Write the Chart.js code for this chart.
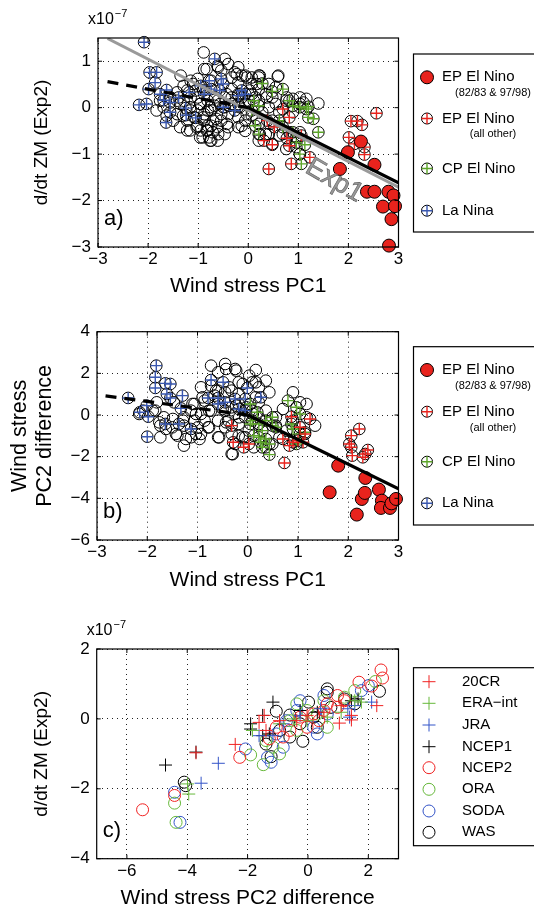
<!DOCTYPE html>
<html>
<head>
<meta charset="utf-8">
<script src="https://cdn.jsdelivr.net/npm/chart.js@4.4.1/dist/chart.umd.min.js"></script>
<style>
body { margin: 0; background: #fff; width: 534px; height: 912px; overflow: hidden; position: relative; }
canvas { position: absolute; left: 0; }
</style>
</head>
<body>
<canvas id="chart-a" width="534" height="300" style="top:0px"></canvas>
<canvas id="chart-b" width="534" height="310" style="top:300px"></canvas>
<canvas id="chart-c" width="534" height="302" style="top:610px"></canvas>
<script>
// ---- panel a: d/dt ZM vs wind stress PC1 ----
var a_ep_strong = [[1.83,-1.32],[1.99,-0.96],[2.25,-0.73],[2.52,-1.23],[2.37,-1.81],[2.52,-1.81],[2.80,-1.81],[2.90,-1.89],[2.69,-2.13],[2.93,-2.12],[2.86,-2.40],[2.81,-2.97]];
var a_ep_other = [[2.56,-0.12],[2.05,-0.29],[2.18,-0.29],[2.27,-0.37],[2.01,-0.64],[2.32,-0.85],[2.32,-1.01],[2.12,-0.78],[0.69,-0.03],[0.38,-0.28],[0.52,-0.42],[0.82,-0.21],[0.31,-0.71],[0.48,-0.80],[0.82,-0.82],[0.86,-1.21],[0.41,-1.32],[1.06,-0.60],[1.23,-1.07],[0.77,-0.66]];
var a_cp = [[0.28,0.52],[0.48,0.35],[0.69,0.40],[0.11,0.15],[0.21,0.04],[0.07,-0.06],[0.62,-0.28],[0.14,-0.39],[0.21,-0.57],[0.82,0.15],[0.89,0.04],[1.03,0.01],[1.16,-0.03],[1.20,-0.21],[1.30,-0.24],[1.40,-0.53],[0.89,-0.53],[0.96,-0.75],[1.13,-0.80],[1.03,-1.00],[1.06,-1.21],[0.69,-0.42],[1.20,0.02]];
var a_lanina = [[-2.08,1.41],[-1.97,0.76],[-1.83,0.76],[-1.86,0.54],[-1.99,0.40],[-1.76,0.29],[-1.63,0.38],[-1.69,0.16],[-1.56,0.11],[-1.56,-0.10],[-1.64,-0.32],[-2.18,0.06],[-2.03,0.08],[-1.25,-0.01],[-1.24,-0.16],[-1.05,-0.22],[-1.39,0.22],[-0.67,1.05],[-0.78,0.58],[-0.54,0.62],[-0.50,0.51],[-0.57,0.37],[-0.74,0.40],[-0.88,0.29],[-0.95,0.47],[-0.50,0.01],[-0.27,-0.06],[-0.13,0.37],[-0.06,0.29],[-0.20,0.26],[-1.18,0.33]];
var a_other = [[-0.89,1.19],[-0.47,1.05],[-0.61,0.90],[-0.40,0.94],[-0.27,0.76],[-0.06,0.69],[0.21,0.69],[0.59,0.67],[-1.35,0.69],[-1.15,0.58],[-0.88,0.83],[-1.01,0.62],[-1.29,0.47],[-1.05,0.37],[-0.81,0.15],[-0.61,0.15],[-0.47,0.22],[-0.33,0.40],[-0.20,0.54],[0.07,0.51],[0.07,0.29],[0.21,0.40],[0.35,0.29],[0.48,0.22],[0.89,0.19],[1.03,0.22],[1.16,0.19],[1.40,0.09],[-1.15,-0.06],[-1.22,-0.28],[-1.22,-0.49],[-1.01,-0.39],[-0.88,-0.28],[-0.81,-0.49],[-0.91,-0.64],[-0.78,-0.64],[-0.71,-0.53],[-0.74,-0.39],[-0.54,-0.28],[-0.40,-0.14],[-0.20,-0.21],[-0.06,-0.28],[0.07,-0.17],[0.28,-0.10],[0.21,-0.35],[0.48,-0.28],[0.41,-0.57],[0.48,-0.78],[0.69,-0.57],[0.82,-0.53],[1.03,-0.53],[0.96,-0.85],[1.03,-1.00],[-0.61,-0.71],[-0.47,-0.57],[-1.42,0.15],[-1.56,0.22],[-1.69,0.01],[-1.76,0.15],[-1.83,-0.06],[-1.29,0.15],[-0.74,-0.06],[-0.20,0.08],[-0.33,0.08],[-0.06,0.08],[-0.54,-0.14],[-1.01,-0.06],[-0.95,0.08],[-0.81,-0.06],[-0.67,0.04],[-0.47,0.01],[-0.33,0.22],[-0.13,0.22],[0.01,0.15],[0.14,0.22],[0.21,0.15],[0.41,0.01],[0.55,0.08],[0.62,-0.10],[-0.20,-0.42],[-0.06,-0.50],[-0.40,-0.42],[-0.88,0.44],[-1.01,0.22],[-1.15,0.22],[-0.74,0.58],[-0.33,0.65],[0.07,0.65],[-0.13,0.69],[-0.54,0.80],[-0.20,0.87],[0.21,0.65],[-1.22,0.37],[-1.42,0.33],[-0.88,-0.14],[-0.64,-0.24],[-1.08,-0.21],[-0.61,-0.42],[-0.95,-0.49],[-0.74,-0.71],[-0.81,-0.39],[-1.42,-0.14],[-1.63,-0.17],[1.03,0.08],[0.89,-0.10],[0.76,0.15],[0.55,0.44],[0.41,0.51],[0.35,-0.57],[0.21,-0.71],[0.76,-0.89],[0.96,-0.64],[0.62,-0.60],
    [-0.83,0.83],[-0.60,0.87],[-0.23,0.72],[-0.03,0.65],[0.23,0.69],[0.60,0.69],[-1.10,0.51],[-0.90,0.37],[-0.66,0.22],[-0.43,0.29],[-0.20,0.29],[0.03,0.37],[0.17,0.51],[0.37,0.22],[0.77,0.22],[1.10,0.11],[-1.36,0.08],[-1.16,0.01],[-0.96,0.08],[-0.76,0.01],[-0.56,0.08],[-0.37,0.04],[-0.17,0.01],[-0.03,-0.14],[-0.90,-0.21],[-0.70,-0.28],[-1.03,-0.42],[-0.83,-0.49],[-0.96,-0.64],[-0.76,-0.71],[-0.60,-0.57],[-0.43,-0.35],[-0.13,-0.39],[0.17,-0.24],[0.43,-0.35],[0.23,-0.57],[-1.30,-0.17],[-1.50,-0.28],[-1.36,-0.42],[-1.16,-0.49]];
var a_exp1_line = [[-2.81,1.49],[3,-1.71]];
var a_fit_dashed = [[-2.81,0.56],[0,0]];
var a_fit_solid = [[0,0],[3,-1.62]];
var a_x_ticks = [-3,-2,-1,0,1,2,3];
var a_y_ticks = [-3,-2,-1,0,1];

// ---- panel b: PC2 difference vs PC1 ----
var b_ep_strong = [[1.80,-2.43],[2.34,-3.02],[1.63,-3.71],[2.27,-4.03],[2.33,-3.74],[2.17,-4.78],[2.61,-3.58],[2.67,-4.11],[2.65,-4.46],[2.83,-4.46],[2.86,-4.24],[2.95,-4.03]];
var b_ep_other = [[2.22,-0.67],[2.06,-0.99],[2.02,-1.39],[2.06,-1.55],[2.08,-1.95],[2.29,-2.03],[2.34,-1.87],[2.39,-1.68],[0.73,-2.30],[0.87,-0.08],[1.24,-0.19],[-0.32,-0.51],[-0.29,-1.31],[-0.08,-1.55],[0.02,-1.39],[0.70,-1.15],[0.83,-1.47],[1.00,-1.23],[1.04,-0.59],[1.14,-0.91],[0.90,-1.31],[1.10,-1.31]];
var b_cp = [[0.05,0.53],[0.19,0.13],[0.09,-0.27],[0.22,-0.43],[0.36,-0.27],[0.49,-0.11],[0.29,-0.75],[0.22,-1.07],[0.36,-1.15],[0.43,-1.39],[0.29,-1.55],[0.43,-1.90],[0.49,-0.51],[0.12,-0.99],[0.80,0.69],[0.97,0.37],[1.04,0.05],[0.90,-0.67],[1.04,-0.91],[1.14,-0.83],[0.97,-1.39],[0.87,-0.43],[0.56,-0.59],[0.26,-1.31],[0.05,-0.43]];
var b_lanina = [[-2.38,0.82],[-1.82,2.37],[-1.84,1.81],[-1.84,1.30],[-1.64,1.52],[-1.54,1.49],[-1.61,1.01],[-1.54,0.82],[-1.30,0.93],[-2.01,0.45],[-2.15,0.13],[-1.98,-0.08],[-2.00,-1.04],[-1.64,-0.43],[-1.33,0.32],[-1.37,-0.43],[-1.13,-0.67],[-0.73,1.68],[-0.49,1.57],[-0.79,0.82],[-0.59,0.82],[-0.59,0.53],[-0.45,0.61],[-0.25,0.77],[-0.05,0.77],[-0.18,0.29],[-0.05,0.21],[0.26,0.85],[-0.01,1.30]];
var b_other = [[-0.73,2.37],[-0.45,2.45],[-0.25,2.21],[-0.59,2.05],[0.16,2.16],[0.36,1.65],[0.09,1.57],[0.22,1.33],[-0.18,1.57],[-0.32,1.17],[0.43,1.09],[0.90,1.09],[1.17,0.53],[1.34,-0.51],[1.17,-0.11],[1.04,0.61],[0.70,0.29],[0.56,-0.11],[0.36,0.21],[0.16,0.85],[-0.18,1.01],[-0.45,1.09],[-0.66,0.93],[-0.86,0.69],[-1.06,0.53],[-1.13,0.21],[-0.93,0.05],[-0.73,0.21],[-0.45,0.21],[-0.32,0.37],[-0.25,0.05],[-0.39,-0.27],[-0.18,-0.43],[-0.32,-0.91],[-0.18,-1.00],[-0.32,-1.87],[-0.59,-1.07],[-0.79,-0.59],[-0.93,-0.91],[-0.99,-0.59],[-1.27,-1.47],[-1.40,-0.99],[-1.50,-0.59],[-1.27,-0.51],[-1.74,-0.51],[-1.74,-1.07],[-1.84,0.21],[-1.81,0.61],[-1.47,0.61],[-1.06,-0.27],[-1.27,-0.11],[0.02,-0.75],[-0.05,-1.07],[0.12,-1.55],[-0.25,-1.39],[0.63,-1.07],[0.56,-0.51],[0.77,-0.75],[0.90,-0.27],[0.36,-1.55],[0.49,-1.39],[0.22,-0.11],[0.09,0.21],[-0.05,-0.11],[-0.18,0.53],[0.22,0.61],[-0.86,-0.27],[-0.59,-0.27],[-1.13,-1.07],[-1.67,-0.11],[-2.08,0.21],[-0.45,-0.59],[-0.59,1.17],[-0.93,1.33],[-0.73,1.41],
    [-0.43,2.21],[-0.23,2.13],[0.03,1.89],[0.16,1.57],[-0.10,1.49],[-0.37,1.33],[-0.63,1.17],[-0.90,0.85],[-1.10,0.53],[-1.03,0.05],[-0.77,0.21],[-0.50,0.29],[-0.23,0.45],[-0.03,0.37],[0.10,0.05],[-0.17,-0.11],[-0.43,-0.35],[-0.77,-0.59],[-1.03,-0.91],[-1.23,-1.15],[-1.43,-0.91],[-1.63,-0.67],[-1.76,-0.35],[-1.49,-0.19],[-1.29,-0.27],[-0.57,-1.07],[-0.30,-1.88],[-0.10,-1.07],[-0.96,-1.15],[-1.89,0.21],[-2.16,0.05]];
var b_fit_dashed = [[-2.83,0.92],[0,0]];
var b_fit_solid = [[0,0],[3,-3.54]];
var b_x_ticks = [-3,-2,-1,0,1,2,3];
var b_y_ticks = [-6,-4,-2,0,2,4];

// ---- panel c: d/dt ZM vs PC2 difference, by product ----
var c_names = ['20CR','ERA\u2212int','JRA','NCEP1','NCEP2','ORA','SODA','WAS'];
var c_20cr = [[-2.41,-0.73],[-3.71,-0.97],[2.28,0.38],[1.04,-0.12],[1.44,0.10],[1.44,-0.03],[-1.62,-0.10],[-1.45,0.10],[-0.94,-0.05],[-0.03,0.10],[0.53,0.19],[1.10,0.38],[-1.39,-0.33],[-0.37,-0.05]];
var c_era = [[-3.99,-1.86],[-3.95,-2.15],[1.55,0.52],[1.77,0.48],[0.64,0.05],[1.10,0.19],[-0.03,-0.05],[-0.94,-0.14],[-0.49,0.00],[-1.84,-0.33]];
var c_jra = [[-2.97,-1.27],[-3.54,-1.84],[2.11,0.48],[1.32,0.29],[1.55,0.38],[1.38,0.05],[-1.16,-0.48],[-1.62,-0.48],[-0.82,-0.14],[-0.26,0.10],[0.42,0.29]];
var c_ncep1 = [[-4.72,-1.32],[-3.71,-0.95],[-1.90,-0.14],[-1.90,-0.29],[-1.50,0.10],[-1.16,0.48],[-1.28,-0.43],[-1.50,-0.48],[1.44,0.52],[1.66,0.57],[0.31,0.19],[-0.26,0.24]];
var c_ncep2 = [[-5.48,-2.60],[-4.42,-2.19],[-2.26,-1.10],[2.42,1.40],[2.47,1.17],[1.69,1.05],[2.11,0.94],[0.98,0.67],[0.64,0.43],[0.53,0.24],[0.36,-0.05],[-0.03,-0.24],[-0.60,-0.33],[-0.82,-0.52],[-1.28,-0.57],[-1.05,-0.24],[-0.26,0.05],[0.19,0.14],[0.98,0.33],[1.21,0.52]];
var c_ora = [[-4.42,-2.41],[-4.37,-2.96],[-1.90,-1.03],[-1.48,-1.31],[-0.94,-1.00],[2.23,1.07],[1.55,0.81],[1.21,0.62],[0.64,-0.24],[0.31,0.14],[-0.37,0.43],[-0.37,-0.33],[-0.60,-0.05],[-1.16,-0.81],[-1.39,-0.62],[0.53,0.52],[-0.03,0.24]];
var c_soda = [[-4.42,-2.10],[-4.24,-2.96],[-2.07,-0.86],[-1.22,-1.24],[-1.34,-1.10],[2.00,0.95],[1.77,0.81],[0.31,-0.43],[-0.26,0.52],[0.19,-0.24],[-0.71,-0.05],[-1.05,-0.43],[0.53,0.67],[-0.37,0.24],[0.64,0.14],[-0.82,-0.81]];
var c_was = [[-4.10,-1.81],[-4.05,-1.91],[-0.17,-0.64],[2.37,0.79],[0.64,0.86],[0.64,0.76],[0.02,0.48],[-1.05,0.22],[-0.60,0.11],[-1.39,-0.72],[-1.22,-1.08],[-0.60,-0.52],[0.31,-0.24],[0.19,0.05],[-0.26,-0.14],[1.21,0.57],[0.76,0.33],[-0.94,-0.33],[1.55,0.43]];
var c_x_ticks = [-6,-4,-2,0,2];
var c_y_ticks = [-4,-2,0,2];

var RED = '#e8231d', GREEN = '#5da52a', BLUE = '#3a58b0';
var C_RED = '#f02222', C_GREEN = '#66b83a', C_BLUE = '#3354c8', C_BLACK = '#000';
var FONT = "'Liberation Sans', Arial, Helvetica, sans-serif";

Chart.defaults.font.family = FONT;
Chart.defaults.color = '#000';

function fmt(v) {
    return String(v).replace('-', '\u2212');
}

function lineSet(data, color, width, dash) {
    return { data: data, showLine: true, pointRadius: 0, borderColor: color, borderWidth: width, borderDash: dash || [], fill: false };
}
function pointSet(data, style, radius, color, fillColor, width) {
    return { data: data, pointStyle: style, pointRadius: radius, borderColor: color, backgroundColor: fillColor || 'rgba(0,0,0,0)', borderWidth: width || 1, clip: false };
}
// circle with a coloured cross on top
function crossCircle(data, color) {
    return [pointSet(data, 'cross', 5.8, color, null, 1.4), pointSet(data, 'circle', 5.8, '#000', null, 1)];
}

function axes(o) {
    return {
        x: {
            type: 'linear', min: o.xMin, max: o.xMax,
            afterBuildTicks: function(s) { s.ticks = o.xTicks.map(function(v) { return { value: v }; }); },
            afterFit: function(s) { s.height = o.xHeight; },
            grid: { color: '#222', lineWidth: 1, drawTicks: false },
            border: { display: false, dash: [1, 4] },
            ticks: { font: { size: 17 }, padding: 2, autoSkip: false, maxRotation: 0, callback: function(v) { return fmt(v); } },
            title: { display: true, text: o.xTitle, font: { size: 21 }, padding: { top: 0, bottom: o.xTitlePad } }
        },
        y: {
            type: 'linear', min: o.yMin, max: o.yMax,
            afterBuildTicks: function(s) { s.ticks = o.yTicks.map(function(v) { return { value: v }; }); },
            afterFit: function(s) { s.width = o.yWidth; },
            grid: { color: '#222', lineWidth: 1, drawTicks: false },
            border: { display: false, dash: [1, 4] },
            ticks: { font: { size: 17 }, padding: 7, autoSkip: false, callback: function(v) { return fmt(v); } },
            title: { display: true, text: o.yTitle, font: { size: o.yTitleSize, lineHeight: 1.15 }, padding: { top: o.yTitlePad, bottom: 0 } }
        }
    };
}

function drawMarker(ctx, style, x, y, color) {
    ctx.lineWidth = 1;
    if (style === 'filled') {
        ctx.beginPath(); ctx.arc(x, y, 6.5, 0, Math.PI * 2);
        ctx.fillStyle = color; ctx.fill(); ctx.strokeStyle = '#000'; ctx.stroke();
    } else if (style === 'crossCircle') {
        ctx.beginPath(); ctx.arc(x, y, 5.5, 0, Math.PI * 2); ctx.strokeStyle = '#000'; ctx.stroke();
        ctx.beginPath(); ctx.moveTo(x - 5.5, y); ctx.lineTo(x + 5.5, y); ctx.moveTo(x, y - 5.5); ctx.lineTo(x, y + 5.5);
        ctx.strokeStyle = color; ctx.lineWidth = 1.4; ctx.stroke();
    } else if (style === 'cross') {
        ctx.beginPath(); ctx.moveTo(x - 6.5, y); ctx.lineTo(x + 6.5, y); ctx.moveTo(x, y - 6.5); ctx.lineTo(x, y + 6.5);
        ctx.strokeStyle = color; ctx.stroke();
    } else {
        ctx.beginPath(); ctx.arc(x, y, 6, 0, Math.PI * 2); ctx.strokeStyle = color; ctx.stroke();
    }
}

// box, inward ticks, x10^-7, panel letter, legend
var panelDecor = {
    id: 'panelDecor',
    afterDraw: function(chart, args, opts) {
        var ctx = chart.ctx, a = chart.chartArea, xs = chart.scales.x, ys = chart.scales.y;
        ctx.save();
        ctx.strokeStyle = '#000';
        ctx.lineWidth = 1;
        ctx.beginPath();
        xs.ticks.forEach(function(t) {
            var p = xs.getPixelForValue(t.value);
            ctx.moveTo(p, a.bottom); ctx.lineTo(p, a.bottom - 4);
            ctx.moveTo(p, a.top); ctx.lineTo(p, a.top + 4);
        });
        ys.ticks.forEach(function(t) {
            var p = ys.getPixelForValue(t.value);
            ctx.moveTo(a.left, p); ctx.lineTo(a.left + 4, p);
            ctx.moveTo(a.right, p); ctx.lineTo(a.right - 4, p);
        });
        ctx.stroke();
        ctx.lineWidth = 1.2;
        ctx.strokeRect(a.left, a.top, a.right - a.left, a.bottom - a.top);

        ctx.fillStyle = '#000';
        ctx.textBaseline = 'alphabetic';
        if (opts.exponent) {
            ctx.font = '16px ' + FONT;
            ctx.textAlign = 'left';
            var ex = a.left - 10, ey = a.top - 14;
            ctx.fillText('x10', ex, ey);
            var w = ctx.measureText('x10').width;
            ctx.font = '11px ' + FONT;
            ctx.fillText('\u22127', ex + w + 1, ey - 7);
        }
        ctx.font = '22px ' + FONT;
        ctx.textAlign = 'left';
        ctx.fillText(opts.letter, a.left + 6, a.bottom - 22);

        if (opts.label) {
            var lp = opts.label;
            ctx.save();
            ctx.translate(xs.getPixelForValue(lp.x), ys.getPixelForValue(lp.y));
            ctx.rotate(lp.angle * Math.PI / 180);
            ctx.font = '27px ' + FONT;
            ctx.textAlign = 'center';
            ctx.textBaseline = 'middle';
            ctx.fillStyle = '#9a9a9a';
            ctx.fillText(lp.text, 0, 0);
            ctx.strokeStyle = '#6a6a6a';
            ctx.lineWidth = 0.7;
            ctx.strokeText(lp.text, 0, 0);
            ctx.restore();
        }

        var L = opts.legend;
        ctx.fillStyle = '#fff';
        ctx.fillRect(L.x, L.y, L.w, L.h);
        ctx.strokeStyle = '#000';
        ctx.lineWidth = 1.2;
        ctx.strokeRect(L.x, L.y, L.w, L.h);
        L.items.forEach(function(it, i) {
            var y = L.y + L.rows[i];
            drawMarker(ctx, it.style, L.markerX, y, it.color);
            ctx.fillStyle = '#000';
            ctx.textBaseline = 'middle';
            ctx.textAlign = 'left';
            ctx.font = '15px ' + FONT;
            ctx.fillText(it.label, L.textX, y);
            if (it.sub) {
                ctx.font = '11px ' + FONT;
                ctx.textAlign = 'center';
                ctx.fillText(it.sub, L.subX, y + L.subGap);
            }
        });
        ctx.restore();
    }
};

var ensoLegend = [
    { label: 'EP El Nino', sub: '(82/83 & 97/98)', style: 'filled', color: RED },
    { label: 'EP El Nino', sub: '(all other)', style: 'crossCircle', color: RED },
    { label: 'CP El Nino', style: 'crossCircle', color: GREEN },
    { label: 'La Nina', style: 'crossCircle', color: BLUE }
];

function baseOptions(pad, scales, decor) {
    return {
        responsive: false,
        animation: false,
        devicePixelRatio: 1,
        layout: { padding: pad },
        scales: scales,
        plugins: { legend: { display: false }, tooltip: { enabled: false }, panelDecor: decor }
    };
}

// Panel a
new Chart(document.getElementById('chart-a'), {
    type: 'scatter',
    data: {
        datasets: [
            lineSet(a_fit_solid, '#000', 3.2),
            lineSet(a_fit_dashed, '#000', 3.2, [11, 8]),
            lineSet(a_exp1_line, '#9a9a9a', 3),
            pointSet(a_ep_strong, 'circle', 6.5, '#000', RED, 1)
        ].concat(crossCircle(a_ep_other, RED), crossCircle(a_cp, GREEN), crossCircle(a_lanina, BLUE),
            [pointSet(a_other, 'circle', 5.8, '#000', null, 1)])
    },
    options: baseOptions({ left: 0, top: 38, right: 135.5, bottom: 0 },
        axes({ xMin: -3, xMax: 3, yMin: -3, yMax: 1.5, xTicks: a_x_ticks, yTicks: a_y_ticks,
            xHeight: 53, yWidth: 98, xTitle: 'Wind stress PC1', yTitle: 'd/dt ZM (Exp2)', yTitleSize: 19, xTitlePad: 1.4, yTitlePad: 31 }),
        { exponent: true, letter: 'a)', label: { text: 'Exp1', x: 1.72, y: -1.57, angle: 30 },
          legend: { x: 413.5, y: 54, w: 140, h: 178, markerX: 427, textX: 442, subX: 493, subGap: 15.6,
                    rows: [23.3, 64.5, 114.5, 156.7], items: ensoLegend } }),
    plugins: [panelDecor]
});

// Panel b
new Chart(document.getElementById('chart-b'), {
    type: 'scatter',
    data: {
        datasets: [
            lineSet(b_fit_solid, '#000', 3.2),
            lineSet(b_fit_dashed, '#000', 3.2, [11, 8]),
            pointSet(b_ep_strong, 'circle', 6.5, '#000', RED, 1)
        ].concat(crossCircle(b_ep_other, RED), crossCircle(b_cp, GREEN), crossCircle(b_lanina, BLUE),
            [pointSet(b_other, 'circle', 5.8, '#000', null, 1)])
    },
    options: baseOptions({ left: 0, top: 31.7, right: 135.5, bottom: 0 },
        axes({ xMin: -3, xMax: 3, yMin: -6, yMax: 4, xTicks: b_x_ticks, yTicks: b_y_ticks,
            xHeight: 70, yWidth: 97, xTitle: 'Wind stress PC1', yTitle: ['Wind stress', 'PC2 difference'], yTitleSize: 21.5, xTitlePad: 17.4, yTitlePad: 8 }),
        { exponent: false, letter: 'b)',
          legend: { x: 413.5, y: 46.7, w: 140, h: 178.3, markerX: 427, textX: 442, subX: 493, subGap: 15.8,
                    rows: [23.3, 65, 115, 156.6], items: ensoLegend } }),
    plugins: [panelDecor]
});

// Panel c
var cSeries = [c_20cr, c_era, c_jra, c_ncep1, c_ncep2, c_ora, c_soda, c_was];
var cColors = [C_RED, C_GREEN, C_BLUE, C_BLACK, C_RED, C_GREEN, C_BLUE, C_BLACK];
var cStyles = ['cross', 'cross', 'cross', 'cross', 'circle', 'circle', 'circle', 'circle'];
var cDatasets = cSeries.map(function(d, i) {
    return pointSet(d, cStyles[i], cStyles[i] === 'cross' ? 6.5 : 6, cColors[i], null, 1);
});
new Chart(document.getElementById('chart-c'), {
    type: 'scatter',
    data: { datasets: cDatasets },
    options: baseOptions({ left: 0, top: 39, right: 135.5, bottom: 0 },
        axes({ xMin: -7, xMax: 3, yMin: -4, yMax: 2, xTicks: c_x_ticks, yTicks: c_y_ticks,
            xHeight: 53.3, yWidth: 96.7, xTitle: 'Wind stress PC2 difference', yTitle: 'd/dt ZM (Exp2)', yTitleSize: 19, xTitlePad: 1.4, yTitlePad: 31 }),
        { exponent: true, letter: 'c)',
          legend: { x: 413.5, y: 57.7, w: 140, h: 178, markerX: 429, textX: 462, subX: 0, subGap: 0,
                    rows: [14, 35.6, 57.3, 79, 100, 121.6, 143.3, 164.6],
                    items: c_names.map(function(n, i) { return { label: n, style: cStyles[i], color: cColors[i] }; }) } }),
    plugins: [panelDecor]
});
</script>
</body>
</html>
